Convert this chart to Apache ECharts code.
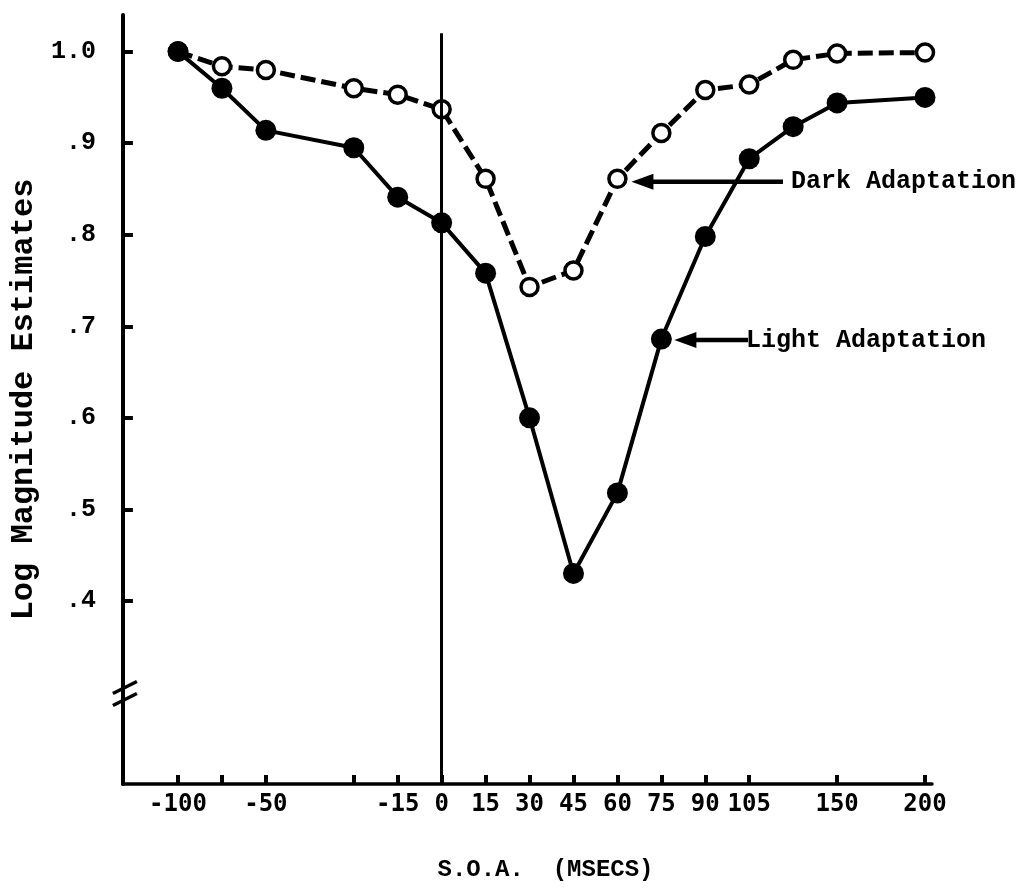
<!DOCTYPE html>
<html>
<head>
<meta charset="utf-8">
<script src="https://cdn.jsdelivr.net/npm/echarts@6/dist/echarts.min.js"></script>
<style>
  html, body { margin: 0; padding: 0; background: #ffffff; }
  #chart { width: 1024px; height: 889px; }
</style>
</head>
<body>
<div id="chart"></div>
<script>
// ---- data ----
const xCategories = ['-100', '-75', '-50', '-30', '-15', '0', '15', '30', '45', '60', '75', '90', '105', '120', '150', '200'];
const xTickLabels = ['-100', '', '-50', '', '-15', '0', '15', '30', '45', '60', '75', '90', '105', '', '150', '200'];
const xUntickedCategories = ['120'];
// the original axis leaves a wider step after these categories
const xWideStepAfter = ['-50', '150'];
const darkAdaptation = [1.00, 0.984, 0.980, 0.960, 0.953, 0.937, 0.861, 0.743, 0.761, 0.861, 0.911, 0.958, 0.964, 0.991, 0.998, 0.999];
const lightAdaptation = [1.00, 0.960, 0.914, 0.895, 0.841, 0.813, 0.758, 0.600, 0.430, 0.518, 0.686, 0.798, 0.883, 0.918, 0.944, 0.950];
const yTickValues = [0.4, 0.5, 0.6, 0.7, 0.8, 0.9, 1.0];
const yTickLabels = ['.4', '.5', '.6', '.7', '.8', '.9', '1.0'];
const yAxisTitle = 'Log Magnitude Estimates';
const xAxisTitle = 'S.O.A.  (MSECS)';
const darkLabel = 'Dark Adaptation';
const lightLabel = 'Light Adaptation';
const darkArrowAt = '60';
const lightArrowAt = '75';
const zeroLineAt = '0';
const yMin = 0.2, yMax = 1.04;
const axisBreakAt = 0.3;

const INK = '#000000';
const MONO = '"Liberation Mono", "DejaVu Sans Mono", monospace';
const SANSMONO = '"DejaVu Sans Mono", "Liberation Mono", monospace';

// axis slots: every category, plus an empty spacer slot after the wide steps
const GAP = '__gap';
const xSlots = [];
xCategories.forEach(function (c) {
  xSlots.push(c);
  if (xWideStepAfter.indexOf(c) >= 0) { xSlots.push(GAP + xSlots.length); }
});
function tickLabelFor(value) {
  const i = xCategories.indexOf(value);
  return i >= 0 ? xTickLabels[i] : '';
}
const darkData = xCategories.map(function (c, i) { return [c, darkAdaptation[i]]; });
const lightData = xCategories.map(function (c, i) { return [c, lightAdaptation[i]]; });

const chart = echarts.init(document.getElementById('chart'), null, { renderer: 'canvas' });

const option = {
  backgroundColor: '#ffffff',
  animation: false,
  grid: [
    { left: 178, right: 1024 - 925, top: 15, bottom: 889 - 784, containLabel: false },
    { left: 117, right: 1024 - 932, top: 15, bottom: 889 - 784, containLabel: false }
  ],
  xAxis: [
    {
      gridIndex: 0,
      type: 'category',
      data: xSlots,
      boundaryGap: false,
      axisLine: { show: false },
      axisTick: {
        show: true, inside: true, length: 9,
        interval: function (index, value) {
          return xCategories.indexOf(value) >= 0 && xUntickedCategories.indexOf(value) < 0;
        },
        lineStyle: { color: INK, width: 4 }
      },
      axisLabel: {
        interval: 0, margin: 9, color: INK,
        fontFamily: SANSMONO, fontSize: 24, fontWeight: 'bold',
        formatter: function (value) { return tickLabelFor(value); }
      },
      splitLine: { show: false },
      name: xAxisTitle,
      nameLocation: 'middle',
      nameGap: 74,
      nameTextStyle: { color: INK, fontFamily: MONO, fontSize: 24, fontWeight: 'bold', padding: [0, 12, 0, 0] }
    },
    {
      gridIndex: 1,
      type: 'value', min: 0, max: 1,
      axisLine: { show: true, lineStyle: { color: INK, width: 3.5 } },
      axisTick: { show: false },
      axisLabel: { show: false },
      splitLine: { show: false }
    }
  ],
  yAxis: [
    {
      gridIndex: 0, type: 'value', min: yMin, max: yMax,
      show: false, splitLine: { show: false }
    },
    {
      gridIndex: 1, type: 'value', min: yMin, max: yMax,
      axisLine: { show: true, lineStyle: { color: INK, width: 4 } },
      axisTick: {
        show: true, inside: true, length: 10, customValues: yTickValues,
        lineStyle: { color: INK, width: 4 }
      },
      axisLabel: {
        customValues: yTickValues, margin: 27, color: INK,
        fontFamily: MONO, fontSize: 25, fontWeight: 'bold',
        formatter: function (v) {
          const i = yTickValues.findIndex(function (t) { return Math.abs(t - v) < 1e-6; });
          return i >= 0 ? yTickLabels[i] : '';
        }
      },
      splitLine: { show: false },
      name: yAxisTitle,
      nameLocation: 'middle',
      nameGap: 76,
      nameTextStyle: { color: INK, fontFamily: MONO, fontSize: 32, fontWeight: 'bold', padding: [0, 0, 0, 0] }
    }
  ],
  series: [
    {
      name: darkLabel,
      type: 'line',
      xAxisIndex: 0, yAxisIndex: 0,
      data: darkData,
      symbol: 'circle',
      symbolSize: 17,
      showAllSymbol: true,
      itemStyle: { color: '#ffffff', borderColor: INK, borderWidth: 3.5 },
      lineStyle: { color: INK, width: 5, type: [15, 6] },
      z: 3
    },
    {
      name: lightLabel,
      type: 'line',
      xAxisIndex: 0, yAxisIndex: 0,
      data: lightData,
      symbol: 'circle',
      symbolSize: 21,
      showAllSymbol: true,
      itemStyle: { color: INK },
      lineStyle: { color: INK, width: 4 },
      z: 4,
      markLine: {
        silent: true,
        symbol: 'none',
        label: { show: false },
        lineStyle: { color: INK, width: 3, type: 'solid' },
        data: [[{ coord: [zeroLineAt, 1.02] }, { coord: [zeroLineAt, yMin] }]]
      }
    }
  ]
};

chart.setOption(option);

// annotation arrows, labels and the axis-break mark, positioned through the axes
function addAnnotations() {
  const dIdx = xCategories.indexOf(darkArrowAt);
  const lIdx = xCategories.indexOf(lightArrowAt);
  const dp = chart.convertToPixel({ xAxisIndex: 0, yAxisIndex: 0 }, [xSlots.indexOf(darkArrowAt), darkAdaptation[dIdx]]);
  const lp = chart.convertToPixel({ xAxisIndex: 0, yAxisIndex: 0 }, [xSlots.indexOf(lightArrowAt), lightAdaptation[lIdx]]);
  const yAxisX = chart.convertToPixel({ xAxisIndex: 1 }, 0);
  const breakY = chart.convertToPixel({ yAxisIndex: 1 }, axisBreakAt);

  function arrow(tipX, y, tailX) {
    return [
      { type: 'line', shape: { x1: tipX + 16, y1: y, x2: tailX, y2: y }, style: { stroke: INK, lineWidth: 4.5 } },
      { type: 'polygon', shape: { points: [[tipX, y], [tipX + 22, y - 8], [tipX + 22, y + 8]] }, style: { fill: INK } }
    ];
  }
  const dy = dp[1] + 3;
  const ly = lp[1] + 1;
  const elements = []
    .concat(arrow(dp[0] + 14, dy, 783))
    .concat(arrow(lp[0] + 13, ly, 748))
    .concat([
      { type: 'text', style: { text: darkLabel, x: 791, y: dy, textVerticalAlign: 'middle', font: 'bold 25px ' + MONO, fill: INK } },
      { type: 'text', style: { text: lightLabel, x: 746, y: ly + 1, textVerticalAlign: 'middle', font: 'bold 25px ' + MONO, fill: INK } },
      { type: 'line', shape: { x1: yAxisX - 10, y1: breakY + 1, x2: yAxisX + 14, y2: breakY - 11 }, style: { stroke: INK, lineWidth: 3.5 } },
      { type: 'line', shape: { x1: yAxisX - 10, y1: breakY + 13, x2: yAxisX + 14, y2: breakY + 1 }, style: { stroke: INK, lineWidth: 3.5 } }
    ]);
  chart.setOption({ graphic: elements });
}
addAnnotations();
</script>
</body>
</html>
